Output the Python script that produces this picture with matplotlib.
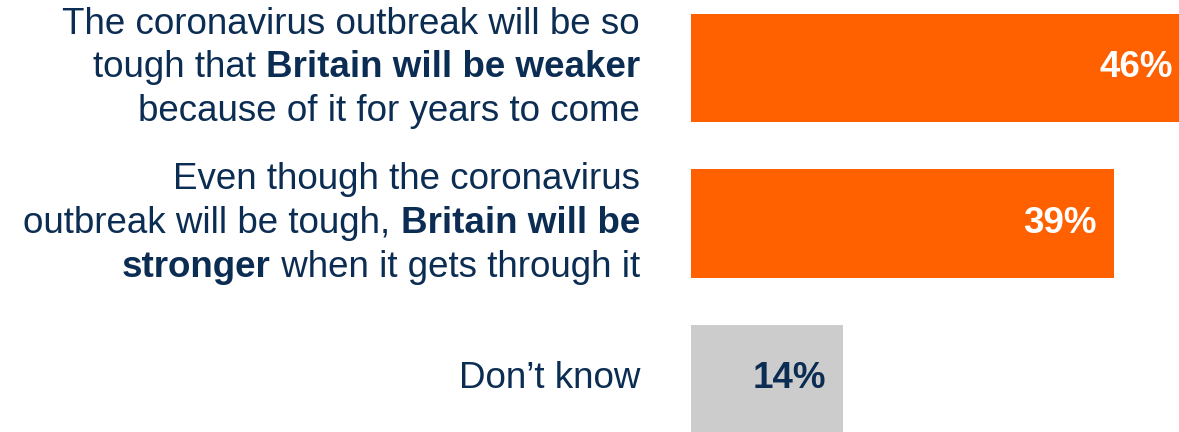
import matplotlib
matplotlib.use('Agg')
import matplotlib.pyplot as plt
from matplotlib.offsetbox import TextArea, HPacker, VPacker, AnnotationBbox

plt.rcParams['font.family'] = ['Liberation Sans', 'DejaVu Sans']

# data
values = [46, 39, 14]
value_labels = ['46%', '39%', '14%']
# each label is a list of lines, each line a list of (text, bold) pieces
labels = [
    [[('The coronavirus outbreak will be so', False)],
     [('tough that ', False), ('Britain will be weaker', True)],
     [('because of it for years to come', False)]],
    [[('Even though the coronavirus', False)],
     [('outbreak will be tough, ', False), ('Britain will be', True)],
     [('stronger', True), (' when it gets through it', False)]],
    [[('Don\u2019t know', False)]],
]

orange = '#FF6000'
grey = '#CCCCCC'
navy = '#0C2D53'
bar_colors = [orange, orange, grey]
value_colors = ['white', 'white', navy]

fig = plt.figure(figsize=(11.79, 4.32), dpi=100)
ax = fig.add_axes([691 / 1179, 0, 488 / 1179, 1])

pos = list(range(len(values)))
ax.barh(pos, values, height=0.695, color=bar_colors)
ax.set_xlim(0, 45)
ax.set_ylim(2.341, -0.437)
ax.axis('off')

pad = 17 / (488 / 45)
for p, v, lab, c in zip(pos, values, value_labels, value_colors):
    ax.text(v - pad, p, lab, ha='right', va='center', fontsize=26.5,
            fontweight='bold', color=c, clip_on=False)

# category labels with mixed bold text
text_x = (640 - 691) / 488
for p, lines in zip(pos, labels):
    rows = []
    for line in lines:
        pieces = [TextArea(t, textprops=dict(fontsize=26.5, color=navy,
                                             fontweight='bold' if b else 'normal'))
                  for t, b in line]
        rows.append(HPacker(children=pieces, pad=0, sep=0, align='baseline'))
    box = VPacker(children=rows, pad=0, sep=6.3, align='right')
    ab = AnnotationBbox(box, (text_x, p), xycoords=ax.get_yaxis_transform(),
                        box_alignment=(1, 0.5), frameon=False, pad=0,
                        annotation_clip=False)
    ax.add_artist(ab)

fig.savefig('out.png', dpi=100)
